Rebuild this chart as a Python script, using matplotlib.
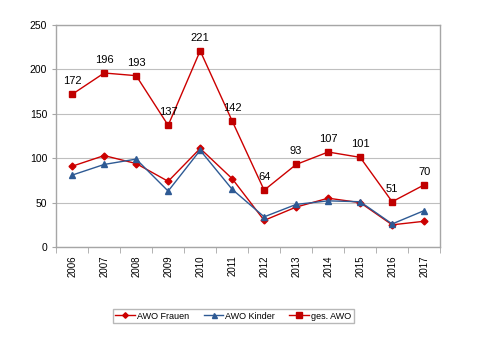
import matplotlib
matplotlib.use("Agg")
import matplotlib.pyplot as plt
import numpy as np

# Data
years = ['2006', '2007', '2008', '2009', '2010', '2011',
         '2012', '2013', '2014', '2015', '2016', '2017']
awo_frauen = [91, 103, 94, 74, 111, 77, 30, 45, 55, 50, 25, 29]
awo_kinder = [81, 93, 99, 63, 109, 65, 34, 48, 52, 51, 26, 41]
ges_awo = [172, 196, 193, 137, 221, 142, 64, 93, 107, 101, 51, 70]

red = '#CC0000'
blue = '#2E5A94'
grey = '#A6A6A6'

plt.rcParams['font.family'] = ['Liberation Sans', 'DejaVu Sans']

fig = plt.figure(figsize=(4.8, 3.58), dpi=100)
ax = fig.add_axes([0.117, 0.31, 0.8, 0.62])

x = np.arange(len(years))
ax.plot(x, awo_frauen, color=red, lw=1, marker='D', ms=3.5, label='AWO Frauen')
ax.plot(x, awo_kinder, color=blue, lw=1, marker='^', ms=4.5, label='AWO Kinder')
ax.plot(x, ges_awo, color=red, lw=1, marker='s', ms=5, mfc='#C00000', mec='#C00000', label='ges. AWO')

for xi, v in zip(x, ges_awo):
    ax.text(xi, v + 9, str(v), ha='center', va='bottom', fontsize=8)

ax.set_xlim(-0.5, len(years) - 0.5)
ax.set_ylim(0, 250)
ax.set_yticks([0, 50, 100, 150, 200, 250])
ax.set_xticks(x)
ax.set_xticklabels(years, rotation=90, fontsize=7)
ax.tick_params(axis='y', labelsize=7.5, length=3, color=grey)
ax.tick_params(axis='x', length=0, pad=6)
# tick marks between categories
ax.set_xticks(np.arange(-0.5, len(years)), minor=True)
ax.tick_params(axis='x', which='minor', length=4, color=grey)

ax.grid(axis='y', color='#BFBFBF', lw=0.8)
ax.set_axisbelow(True)
for s in ax.spines.values():
    s.set_color(grey)
    s.set_linewidth(1)

fig.legend(loc='center', bbox_to_anchor=(0.486, 0.117), ncol=3, fontsize=6.5,
           frameon=True, fancybox=False, edgecolor=grey, handlelength=2.2,
           columnspacing=1.6, handletextpad=0.2, borderpad=0.3, markerscale=0.8)

fig.savefig('out.png', dpi=100)
